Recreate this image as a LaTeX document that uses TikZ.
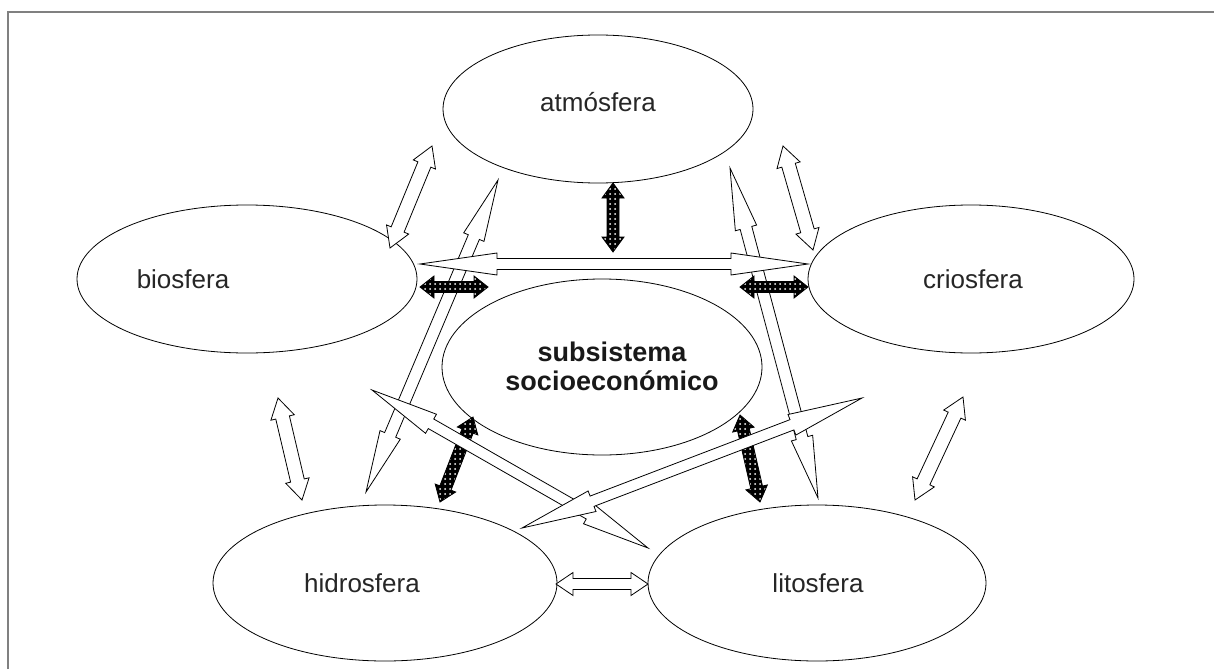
\documentclass[tikz,border=0pt]{standalone}
\usepackage{fontspec}
\setmainfont{Liberation Sans}
\usetikzlibrary{shapes.geometric,calc,patterns.meta}
\newcommand{\dblarr}[6][]{%
  \path[#1] (#2)
  -- ($(#2)!#6!(#3)!#5!90:(#3)$)
  -- ($(#2)!#6!(#3)!#4!90:(#3)$)
  -- ($(#3)!#6!(#2)!#4!-90:(#2)$)
  -- ($(#3)!#6!(#2)!#5!-90:(#2)$)
  -- (#3)
  -- ($(#3)!#6!(#2)!#5!90:(#2)$)
  -- ($(#3)!#6!(#2)!#4!90:(#2)$)
  -- ($(#2)!#6!(#3)!#4!-90:(#3)$)
  -- ($(#2)!#6!(#3)!#5!-90:(#3)$)
  -- cycle;}
\tikzset{
  sphere/.style={ellipse, draw=black, line width=0.8pt, inner sep=0pt},
  lab/.style={font=\fontsize{26}{30}\selectfont, text=black!85, inner sep=0pt},
  hollow/.style={draw=black, fill=white, line width=0.8pt, line join=miter},
  dark/.style={draw=black, line width=0.8pt, preaction={fill=black},
    pattern={Dots[radius=1pt, distance=5pt]}, pattern color=white},
  frameline/.style={draw=black!50, line width=2pt}
}
\begin{document}
\begin{tikzpicture}[x=1pt, y=-1pt]
\useasboundingbox (0,0) rectangle (1214,669);
\fill[white] (0,0) rectangle (1214,669);
\draw[frameline] (8,669) -- (8,12) -- (1214,12);

% spheres
\node[sphere, minimum width=310pt, minimum height=148pt] (atm) at (598,109) {};
\node[sphere, minimum width=340pt, minimum height=148pt] (bio) at (247,279) {};
\node[sphere, minimum width=326pt, minimum height=148pt] (crio) at (971,279) {};
\node[sphere, minimum width=320pt, minimum height=176pt] (soc) at (602,367) {};
\node[sphere, minimum width=344pt, minimum height=156pt] (hid) at (385,583) {};
\node[sphere, minimum width=338pt, minimum height=156pt] (lit) at (817,583) {};

% labels
\node[lab] (atmt) at (598,102) {atmósfera};
\node[lab] (biot) at (183,279) {biosfera};
\node[lab] (criot) at (973,279) {criosfera};
\node[lab, font=\bfseries\fontsize{27}{29}\selectfont, align=center, text=black!90] (soct) at (612,366) {subsistema\\socioeconómico};
\node[lab] (hidt) at (362,583) {hidrosfera};
\node[lab] (litt) at (818,583) {litosfera};

% arrow end points
\coordinate (v4a) at (498,180); \coordinate (v4b) at (366,492);
\coordinate (v5a) at (730,168); \coordinate (v5b) at (818,498);
\coordinate (h1a) at (420,264); \coordinate (h1b) at (808,264);
\coordinate (dAa) at (372,390); \coordinate (dAb) at (648,548);
\coordinate (dBa) at (522,528); \coordinate (dBb) at (862,398);
\coordinate (s6a) at (432,146); \coordinate (s6b) at (390,248);
\coordinate (s7a) at (783,146); \coordinate (s7b) at (813,250);
\coordinate (s8a) at (278,398); \coordinate (s8b) at (302,500);
\coordinate (s9a) at (963,397); \coordinate (s9b) at (915,500);
\coordinate (s10a) at (556,584); \coordinate (s10b) at (648,584);
\coordinate (d1a) at (613,183); \coordinate (d1b) at (613,252);
\coordinate (d2a) at (420,287); \coordinate (d2b) at (488,287);
\coordinate (d3a) at (740,287); \coordinate (d3b) at (808,287);
\coordinate (d4a) at (473,417); \coordinate (d4b) at (440,502);
\coordinate (d5a) at (740,415); \coordinate (d5b) at (760,502);

% long hollow arrows
\dblarr[hollow]{v4a}{v4b}{6pt}{11pt}{62pt}
\dblarr[hollow]{v5a}{v5b}{6pt}{11pt}{62pt}
\dblarr[hollow]{h1a}{h1b}{5.5pt}{11pt}{77pt}
% short hollow arrows
\dblarr[hollow]{s6a}{s6b}{7pt}{12pt}{20pt}
\dblarr[hollow]{s7a}{s7b}{7pt}{12pt}{20pt}
\dblarr[hollow]{s8a}{s8b}{7pt}{12pt}{20pt}
\dblarr[hollow]{s9a}{s9b}{7pt}{12pt}{20pt}
\dblarr[hollow]{s10a}{s10b}{5.5pt}{11.5pt}{17pt}
% dark arrows
\dblarr[dark]{d1a}{d1b}{6pt}{11pt}{15pt}
\dblarr[dark]{d2a}{d2b}{5.5pt}{11pt}{14pt}
\dblarr[dark]{d3a}{d3b}{5.5pt}{11pt}{14pt}
\dblarr[dark]{d4a}{d4b}{6pt}{11pt}{15pt}
\dblarr[dark]{d5a}{d5b}{6pt}{11pt}{15pt}
% diagonal hollow arrows
\dblarr[hollow]{dAa}{dAb}{5.5pt}{11pt}{68pt}
\dblarr[hollow]{dBa}{dBb}{5.5pt}{11pt}{75pt}
\end{tikzpicture}
\end{document}
